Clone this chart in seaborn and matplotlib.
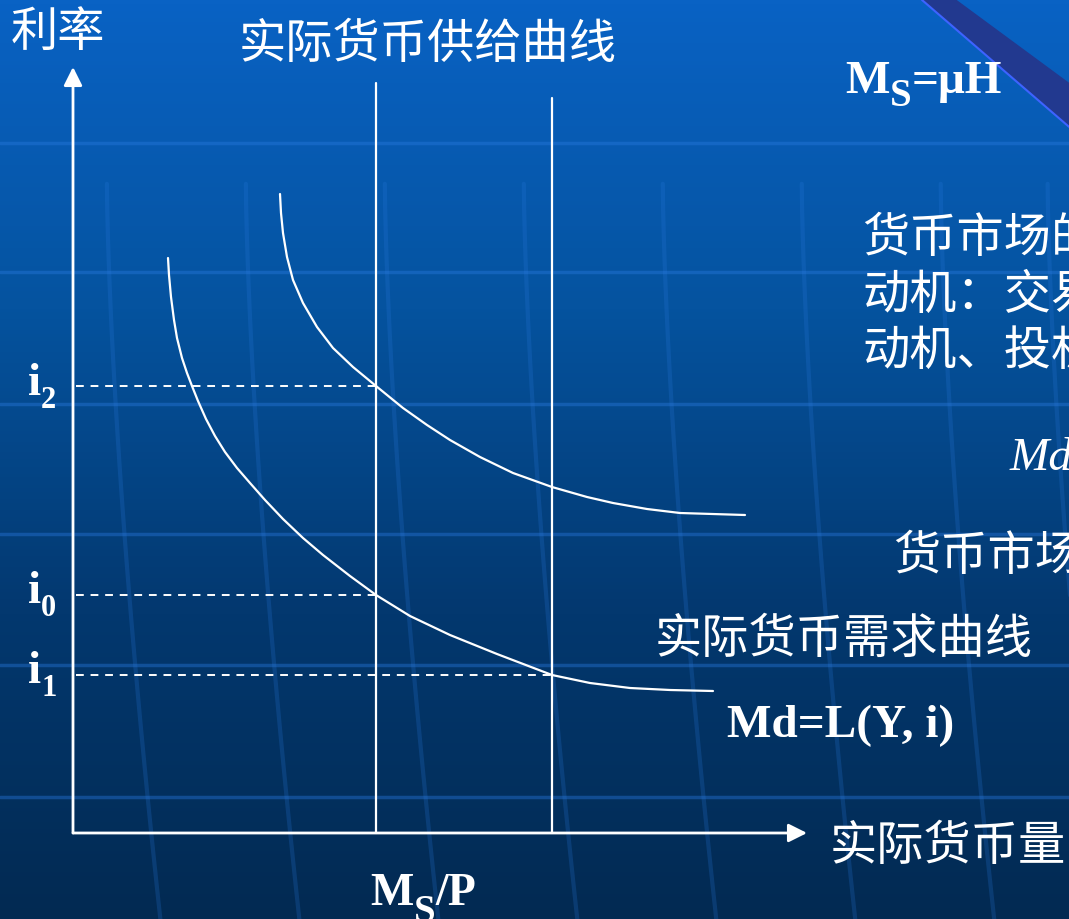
import numpy as np
import matplotlib
matplotlib.use("Agg")
import matplotlib.pyplot as plt
import seaborn as sns
from matplotlib.colors import LinearSegmentedColormap
from matplotlib.patches import Polygon

# chart units: x = real money quantity, y = interest rate (origin at the axes corner)
demand_low_x = [9.5, 9.6, 9.8, 10.1, 10.4, 10.9, 11.4, 11.9, 12.5, 13.3, 14.2, 15.2, 16.4, 17.7,
                19.2, 21.0, 23.0, 25.0, 27.7, 30.3, 33.7, 37.7, 42.4, 47.9, 51.7, 55.7, 59.7, 64.0]
demand_low_y = [57.5, 55.8, 53.6, 51.3, 49.5, 47.5, 46.0, 44.7, 43.2, 41.4, 39.7, 38.1, 36.5, 35.0,
                33.3, 31.4, 29.5, 27.8, 25.7, 23.8, 21.7, 19.8, 17.9, 15.8, 15.0, 14.5, 14.3, 14.2]
demand_high_x = [20.7, 20.8, 21.0, 21.4, 22.0, 23.0, 24.4, 26.0, 28.0, 30.3, 33.0, 35.4, 37.7,
                 40.7, 44.0, 47.9, 51.4, 54.0, 57.4, 60.7, 67.2]
demand_high_y = [63.9, 62.0, 60.0, 57.6, 55.3, 53.0, 50.6, 48.5, 46.6, 44.7, 42.5, 40.8, 39.3,
                 37.6, 36.0, 34.6, 33.6, 33.0, 32.4, 32.0, 31.8]

supply_x = [30.3, 47.9]          # Ms/P and the shifted supply
supply_top = [75.0, 73.5]
rate_levels = [44.7, 23.8, 15.8]  # i2, i0, i1
rate_reach = [30.3, 30.3, 47.9]
rate_subs = ["2", "0", "1"]
rate_baseline = [43.8, 23.0, 15.0]

x_axis_end = 73.4
y_axis_end = 76.6

sns.set_theme(style="white")
plt.rcParams["font.family"] = ["Noto Sans CJK SC", "DejaVu Sans"]

fig = plt.figure(figsize=(10.69, 9.19), dpi=100)
ax = fig.add_axes([0, 0, 1, 1])
ax.set_xlim(-7.3, 99.6)
ax.set_ylim(-8.6, 83.3)
ax.axis("off")

# slide background
grad = LinearSegmentedColormap.from_list("bg", ["#0962c4", "#05539f", "#03386f", "#022a52"])
ax.imshow(np.linspace(0, 1, 256).reshape(-1, 1), cmap=grad, aspect="auto",
          extent=(-7.3, 99.6, -8.6, 83.3), origin="upper", zorder=0)
for f in [0.844, 0.704, 0.560, 0.419, 0.276, 0.133]:
    ax.plot([0, 1], [f, f], transform=ax.transAxes, color="#2a7ae0", lw=2.5, alpha=0.4, zorder=1)
t = np.linspace(0, 1, 30)
for f in [0.10, 0.23, 0.36, 0.49, 0.62, 0.75, 0.88, 0.98]:
    ax.plot(f + 0.05 * t ** 1.5, 0.8 - 0.8 * t, transform=ax.transAxes,
            color="#2a7ae0", lw=3, alpha=0.22, zorder=1)
ax.add_patch(Polygon([(0.8625, 1), (0.895, 1), (1, 0.91), (1, 0.862)], closed=True,
                     transform=ax.transAxes, facecolor="#22398f", edgecolor="none", zorder=1))
ax.plot([0.8625, 1], [1, 0.862], transform=ax.transAxes, color="#3d63ff", lw=1.5, zorder=1)

# axes with arrows
for tip in [(0, y_axis_end), (x_axis_end, 0)]:
    ax.annotate("", xy=tip, xytext=(0, 0),
                arrowprops=dict(arrowstyle="-|>", color="white", lw=2, mutation_scale=28,
                                shrinkA=0, shrinkB=0), zorder=3)

# supply lines
for sx, top in zip(supply_x, supply_top):
    ax.plot([sx, sx], [0, top], color="white", lw=1.6, zorder=3)

# demand curves
sns.lineplot(x=demand_low_x, y=demand_low_y, sort=False, estimator=None, color="white", lw=1.6, ax=ax, zorder=3)
sns.lineplot(x=demand_high_x, y=demand_high_y, sort=False, estimator=None, color="white", lw=1.6, ax=ax, zorder=3)

serif = dict(color="white", family="Liberation Serif", fontweight="bold", va="baseline", zorder=4)


def sub_text(x, y, main, sub, rest="", size=34, sub_size=28, drop=9):
    t1 = ax.text(x, y, main, fontsize=size, ha="left", **serif)
    t2 = ax.annotate(sub, xy=(1, y), xycoords=(t1, "data"), xytext=(0, -drop),
                     textcoords="offset points", fontsize=sub_size, ha="left", **serif)
    if rest:
        ax.annotate(rest, xy=(1, y), xycoords=(t2, "data"), xytext=(0, 0),
                    textcoords="offset points", fontsize=size, ha="left", **serif)


# interest rate levels
for lvl, reach, sub, base in zip(rate_levels, rate_reach, rate_subs, rate_baseline):
    ax.plot([0.3, reach], [lvl, lvl], color="white", lw=1.4, dashes=(4, 3.5), zorder=3)
    sub_text(-4.5, base, "i", sub, size=34, sub_size=22, drop=9)

cjk = dict(color="white", fontsize=34, va="center", zorder=4)
ax.text(-1.5, 80.0, "利率", ha="center", **cjk)
ax.text(35.5, 78.8, "实际货币供给曲线", ha="center", **cjk)
ax.text(78.9, 59.4, "货币市场的", ha="left", **cjk)
ax.text(78.9, 53.7, "动机：交易", ha="left", **cjk)
ax.text(78.9, 48.1, "动机、投机", ha="left", **cjk)
ax.text(82.0, 27.6, "货币市场", ha="left", **cjk)
ax.text(58.2, 19.3, "实际货币需求曲线", ha="left", **cjk)
ax.text(75.7, -1.4, "实际货币量", ha="left", **cjk)

sub_text(77.2, 74.0, "M", "S", "=μH", size=34, sub_size=28, drop=9)
sub_text(29.7, -7.2, "M", "S", "/P", size=33, sub_size=28, drop=12)
ax.text(65.4, 9.6, "Md=L(Y, i)", ha="left", fontsize=34, **serif)
ax.text(93.7, 36.3, "Md", ha="left", color="white", fontsize=34, family="Liberation Serif",
        style="italic", va="baseline", zorder=4)

fig.savefig("out.png", dpi=100)
